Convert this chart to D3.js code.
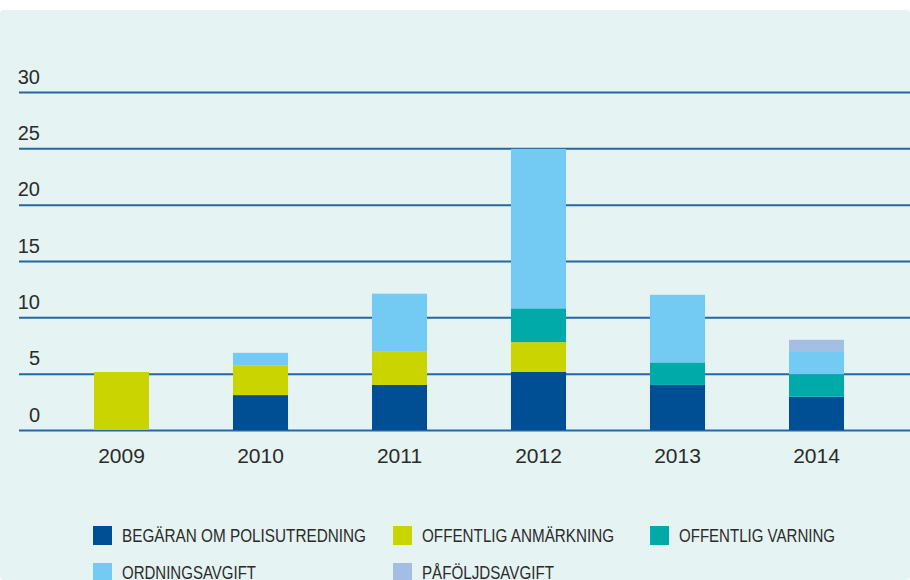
<!DOCTYPE html>
<html>
<head>
<meta charset="utf-8">
<script src="https://cdn.jsdelivr.net/npm/d3@7"></script>
<style>
  body { margin: 0; background: #fff; }
  text { font-family: "Liberation Sans", Arial, sans-serif; fill: #2b2b2b; }
</style>
</head>
<body>
<div id="chart"></div>
<script>
// chart data
const years = ['2009', '2010', '2011', '2012', '2013', '2014'];
const polisutredning = [0, 3.1, 4, 5.15, 4, 2.95];
const anmarkning = [5.15, 2.65, 3, 2.65, 0, 0];
const varning = [0, 0, 0, 3, 2, 2];
const ordningsavgift = [0, 1.1, 5.1, 14.15, 6, 2.05];
const pafoljdsavgift = [0, 0, 0, 0, 0, 1];
const yTicks = [0, 5, 10, 15, 20, 25, 30];

const seriesNames = ['BEGÄRAN OM POLISUTREDNING', 'OFFENTLIG ANMÄRKNING', 'OFFENTLIG VARNING',
    'ORDNINGSAVGIFT', 'PÅFÖLJDSAVGIFT'];
const seriesValues = [polisutredning, anmarkning, varning, ordningsavgift, pafoljdsavgift];
const colors = ['#004f94', '#cad400', '#00aaa9', '#73cbf4', '#a3bde3'];

const width = 910, height = 580;

const rows = years.map((yr, i) => {
    let row = { year: yr };
    seriesNames.forEach((name, k) => row[name] = seriesValues[k][i]);
    return row;
});

const stacked = d3.stack().keys(seriesNames)(rows);

const svg = d3.select('#chart').append('svg')
    .attr('width', width)
    .attr('height', height);

svg.append('rect')
    .attr('x', 0).attr('y', 10)
    .attr('width', width).attr('height', height - 10)
    .attr('rx', 4)
    .attr('fill', '#e5f3f2');

const x = d3.scaleBand()
    .domain(years)
    .range([52, 886])
    .paddingInner(0.604)
    .paddingOuter(0.302);

const y = d3.scaleLinear()
    .domain([0, 30])
    .range([430, 92]);

// gridlines + labels
const yAxis = svg.append('g')
    .attr('transform', 'translate(19,0)')
    .call(d3.axisRight(y).tickValues(yTicks).tickSize(891));
yAxis.select('.domain').remove();
yAxis.selectAll('.tick line')
    .attr('stroke', '#2566a3')
    .attr('stroke-width', 2);
yAxis.selectAll('.tick text')
    .attr('x', 21)
    .attr('dy', -9)
    .attr('text-anchor', 'end')
    .style('font-size', '20px')
    .style('font-family', '"Liberation Sans", Arial, sans-serif')
    .attr('fill', '#2b2b2b');

// bars
svg.append('g')
    .selectAll('g')
    .data(stacked)
    .enter().append('g')
    .attr('fill', (d, i) => colors[i])
    .selectAll('rect')
    .data(d => d)
    .enter().append('rect')
    .attr('x', d => x(d.data.year))
    .attr('y', d => y(d[1]))
    .attr('width', x.bandwidth())
    .attr('height', d => y(d[0]) - y(d[1]));

// x labels
const xAxis = svg.append('g')
    .attr('transform', 'translate(0,430)')
    .call(d3.axisBottom(x).tickSize(0).tickPadding(18));
xAxis.select('.domain').remove();
xAxis.selectAll('.tick text')
    .style('font-size', '21px')
    .style('font-family', '"Liberation Sans", Arial, sans-serif')
    .attr('fill', '#2b2b2b');

// legend
const legendPos = [[93, 526], [393, 526], [650, 526], [93, 563], [393, 563]];
const legendWidths = [244, 192, 156, 134, 132];

const legend = svg.append('g')
    .selectAll('g')
    .data(seriesNames)
    .enter().append('g')
    .attr('transform', (d, i) => `translate(${legendPos[i][0]},${legendPos[i][1]})`);

legend.append('rect')
    .attr('width', 19)
    .attr('height', 19)
    .attr('fill', (d, i) => colors[i]);

legend.append('text')
    .attr('x', 29)
    .attr('y', 16)
    .attr('textLength', (d, i) => legendWidths[i])
    .attr('lengthAdjust', 'spacingAndGlyphs')
    .style('font-size', '18px')
    .text(d => d);
</script>
</body>
</html>
